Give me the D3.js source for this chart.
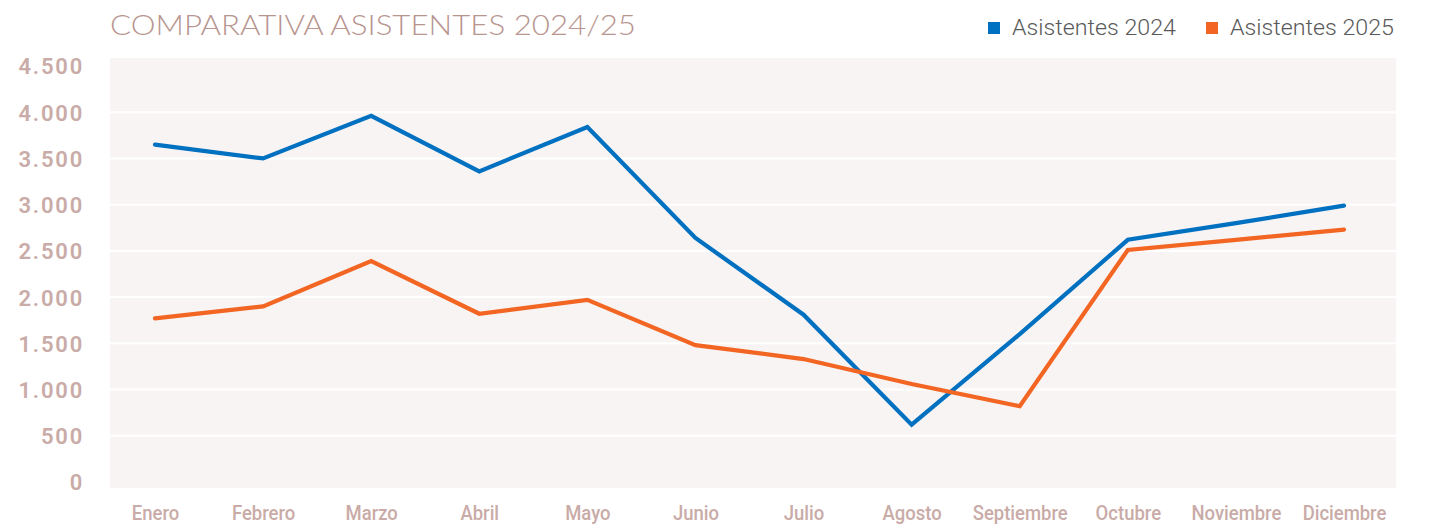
<!DOCTYPE html>
<html lang="es">
<head>
<meta charset="utf-8">
<title>Comparativa asistentes 2024/25</title>
<script src="https://cdn.jsdelivr.net/npm/d3@7/dist/d3.min.js"></script>
<style>
  html, body { margin: 0; padding: 0; background: #ffffff; }
  svg { display: block; }
</style>
</head>
<body>
<div id="chart"></div>
<script>
// Monthly attendance, 2024 vs 2025
const months = ["Enero", "Febrero", "Marzo", "Abril", "Mayo", "Junio", "Julio",
                "Agosto", "Septiembre", "Octubre", "Noviembre", "Diciembre"];
const asistentes2024 = [3650, 3500, 3960, 3360, 3840, 2640, 1810, 620, 1600, 2620, 2800, 2990];
const asistentes2025 = [1770, 1900, 2390, 1820, 1970, 1480, 1330, 1060, 820, 2510, 2620, 2730];
const yTicks = [0, 500, 1000, 1500, 2000, 2500, 3000, 3500, 4000, 4500];
const seriesNames = ["Asistentes 2024", "Asistentes 2025"];

const W = 1432, H = 526;
const plot = { left: 110, right: 1396, top: 58, bottom: 488 };

const colors = { s2024: "#0070c0", s2025: "#f26522" };
const axisColor = "#c9aba7";

const svg = d3.select("#chart").append("svg")
  .attr("width", W).attr("height", H);

// Scales
const x = d3.scalePoint().domain(months).range([155, 1344]);
const y = d3.scaleLinear().domain([0, 4500]).range([482, 66]);

// Plot background
svg.append("rect")
  .attr("x", plot.left).attr("y", plot.top)
  .attr("width", plot.right - plot.left).attr("height", plot.bottom - plot.top)
  .attr("fill", "#f8f4f3");

// Horizontal white gridlines
svg.append("g")
  .selectAll("line")
  .data(yTicks.filter(d => d > 0 && d < 4500))
  .join("line")
  .attr("x1", plot.left).attr("x2", plot.right)
  .attr("y1", d => y(d)).attr("y2", d => y(d))
  .attr("stroke", "#ffffff").attr("stroke-width", 2);

// Y axis labels
const yAxis = d3.axisLeft(y)
  .tickValues(yTicks)
  .tickFormat(d => d3.format(",")(d).replace(/,/g, "."))
  .tickSize(0).tickPadding(0);
svg.append("g")
  .attr("transform", "translate(84,0)")
  .call(yAxis)
  .call(g => g.select(".domain").remove())
  .selectAll("text")
  .attr("fill", axisColor)
  .attr("font-family", "Roboto, 'Liberation Sans', sans-serif")
  .attr("font-weight", 600)
  .attr("font-size", 22)
  .attr("letter-spacing", 1.8)
  .attr("dy", "0.36em");

// X axis labels (narrowed to a condensed look)
const xAxis = d3.axisBottom(x).tickSize(0).tickPadding(0);
svg.append("g")
  .attr("transform", "translate(0,520)")
  .call(xAxis)
  .call(g => g.select(".domain").remove())
  .selectAll("text")
  .attr("fill", axisColor)
  .attr("font-family", "Roboto, 'Liberation Sans', sans-serif")
  .attr("font-weight", 500)
  .attr("font-size", 21)
  .attr("transform", "scale(0.88,1)")
  .attr("y", 0)
  .attr("dy", 0);

// Lines
const line = d3.line()
  .x((d, i) => x(months[i]))
  .y(d => y(d));

[[asistentes2024, colors.s2024], [asistentes2025, colors.s2025]].forEach(([vals, c]) => {
  svg.append("path")
    .datum(vals)
    .attr("d", line)
    .attr("fill", "none")
    .attr("stroke", c)
    .attr("stroke-width", 4.2)
    .attr("stroke-linecap", "round")
    .attr("stroke-linejoin", "miter");
});

// Title
svg.append("text")
  .attr("x", 110).attr("y", 35)
  .attr("fill", "#b8958f")
  .attr("font-family", "Lato, 'Open Sans', sans-serif")
  .attr("font-weight", 300)
  .attr("font-size", 28)
  .attr("textLength", 526)
  .attr("lengthAdjust", "spacingAndGlyphs")
  .text("COMPARATIVA ASISTENTES 2024/25");

// Legend
const legend = svg.append("g");
const legendItems = [
  { name: seriesNames[0], color: colors.s2024, x: 988 },
  { name: seriesNames[1], color: colors.s2025, x: 1206 }
];
legendItems.forEach(it => {
  legend.append("rect")
    .attr("x", it.x).attr("y", 22)
    .attr("width", 12).attr("height", 12)
    .attr("fill", it.color);
  legend.append("text")
    .attr("x", it.x + 24).attr("y", 35)
    .attr("fill", "#595959")
    .attr("font-family", "Roboto, 'Liberation Sans', Arial, sans-serif")
    .attr("font-weight", 300)
    .attr("font-size", 22.5)
    .attr("textLength", 164)
    .attr("lengthAdjust", "spacingAndGlyphs")
    .text(it.name);
});
</script>
</body>
</html>
